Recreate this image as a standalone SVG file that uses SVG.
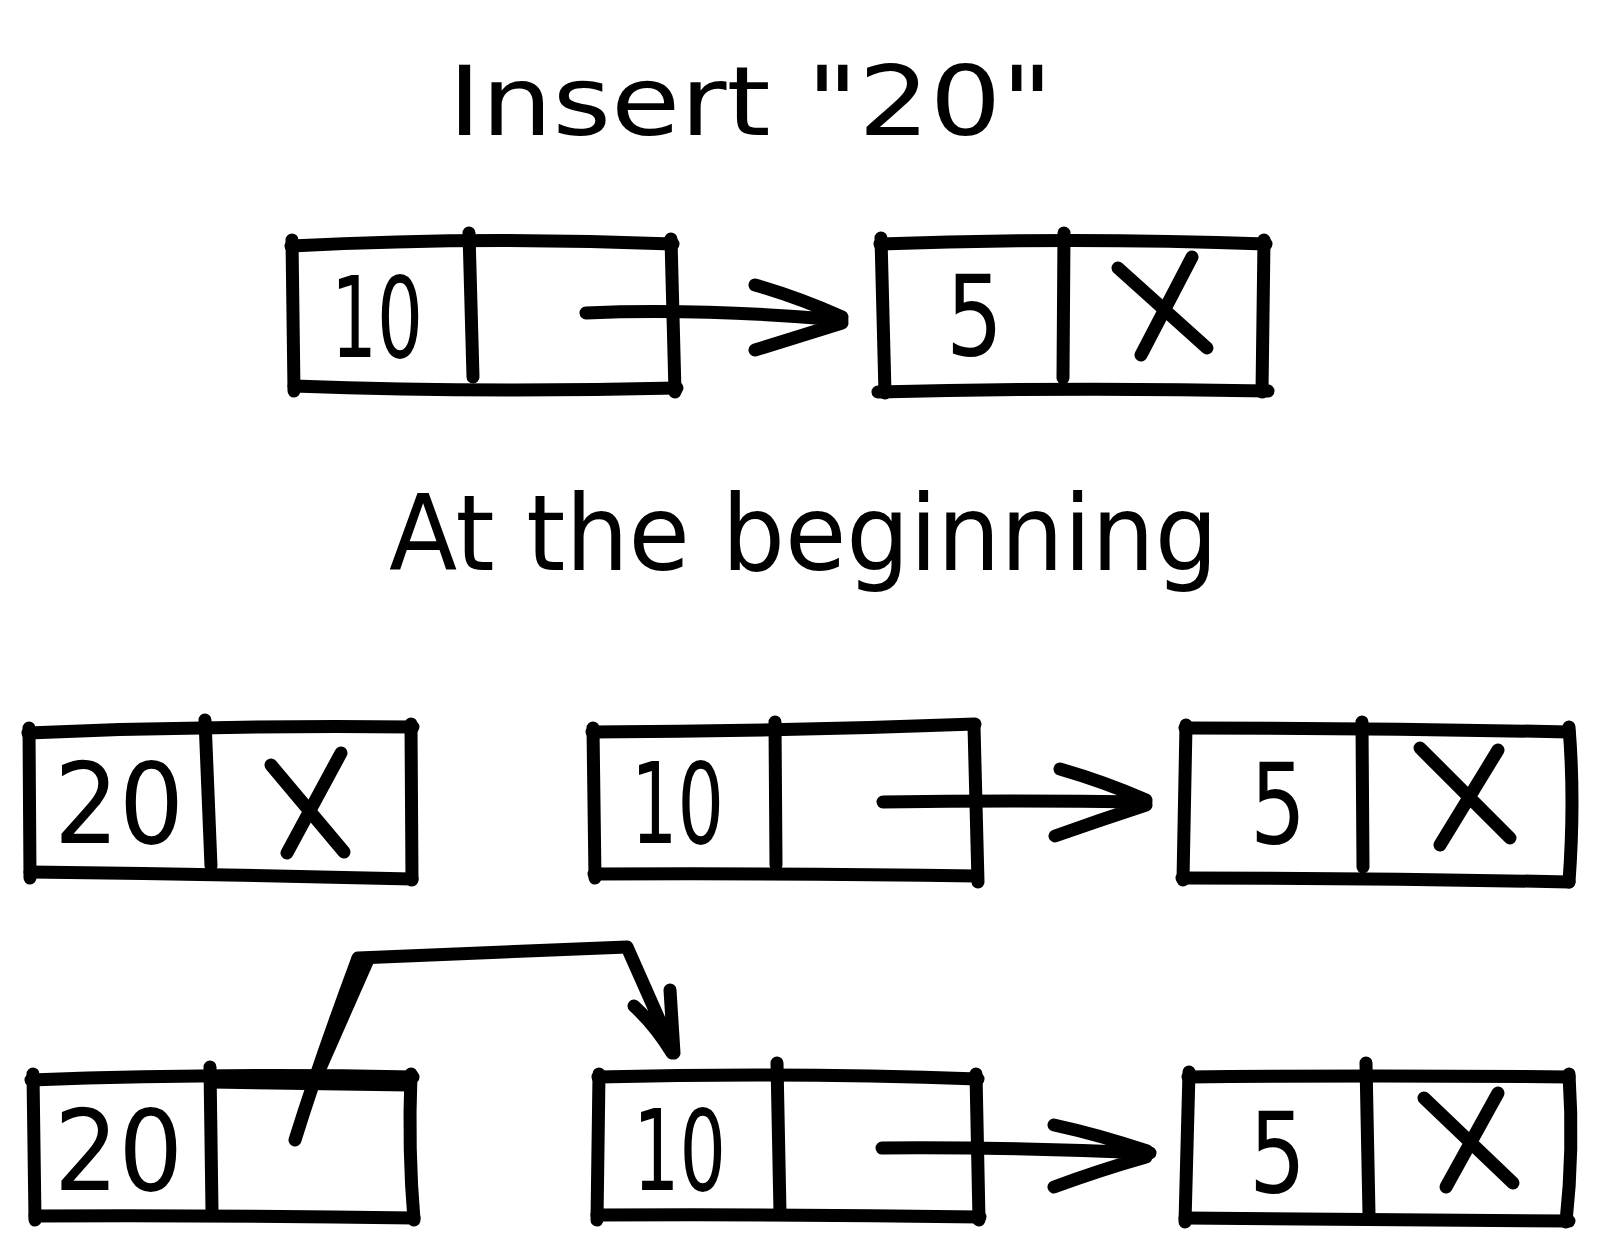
<svg xmlns="http://www.w3.org/2000/svg" width="1598" height="1252" viewBox="0 0 1598 1252">
<style>
.ln{fill:none;stroke:#000;stroke-width:13;stroke-linecap:round;stroke-linejoin:round}
.ttl{font-family:"DejaVu Sans","Liberation Sans",sans-serif;fill:#000}
.dg{font-family:"DejaVu Sans","Liberation Sans",sans-serif;font-size:112px;fill:#000}
</style>
<rect width="1598" height="1252" fill="#fff"/>
<g id="title-insert">
<text class="ttl" x="448" y="135" font-size="96" textLength="605" lengthAdjust="spacingAndGlyphs">Insert "20"</text>
</g>
<g id="title-beginning">
<text class="ttl" x="389" y="570" font-size="106" textLength="829" lengthAdjust="spacingAndGlyphs">At the beginning</text>
</g>

<g id="node-top-10">
<path class="ln" d="M291,246 Q480,236 673,244"/>
<path class="ln" d="M292,240 L294,391"/>
<path class="ln" d="M294,386 Q480,393 677,388"/>
<path class="ln" d="M671,239 L675,392"/>
<path class="ln" d="M469,233 L473,377"/>
<text class="dg" x="331" y="357" textLength="92" lengthAdjust="spacingAndGlyphs">10</text>
</g>
<g id="node-top-5">
<path class="ln" d="M880,244 Q1070,237 1266,244"/>
<path class="ln" d="M881,238 L885,393"/>
<path class="ln" d="M878,392 Q1070,387 1268,391"/>
<path class="ln" d="M1264,240 L1262,392"/>
<path class="ln" d="M1064,233 L1063,378"/>
<text class="dg" x="946" y="355" textLength="57" lengthAdjust="spacingAndGlyphs">5</text>
<path class="ln" d="M1118,268 L1207,348 M1192,257 L1141,355"/>
</g>

<g id="node-mid-20">
<path class="ln" d="M28,733 Q220,725 413,727"/>
<path class="ln" d="M29,728 L30,878"/>
<path class="ln" d="M30,872 Q220,874 412,879"/>
<path class="ln" d="M411,724 L412,880"/>
<path class="ln" d="M205,720 L211,866"/>
<text class="dg" x="54" y="843" textLength="130" lengthAdjust="spacingAndGlyphs">20</text>
<path class="ln" d="M271,765 L344,852 M341,753 L287,853"/>
</g>
<g id="node-mid-10">
<path class="ln" d="M592,732 Q790,731 975,724"/>
<path class="ln" d="M593,728 L595,878"/>
<path class="ln" d="M594,874 Q790,873 976,876"/>
<path class="ln" d="M974,726 L978,882"/>
<path class="ln" d="M775,722 L776,865"/>
<text class="dg" x="631" y="843" textLength="93" lengthAdjust="spacingAndGlyphs">10</text>
</g>
<g id="node-mid-5">
<path class="ln" d="M1185,728 Q1380,728 1569,732"/>
<path class="ln" d="M1186,725 L1183,880"/>
<path class="ln" d="M1182,878 Q1380,878 1569,882"/>
<path class="ln" d="M1569,727 Q1575,800 1569,882"/>
<path class="ln" d="M1362,722 L1363,867"/>
<text class="dg" x="1250" y="843" textLength="56" lengthAdjust="spacingAndGlyphs">5</text>
<path class="ln" d="M1420,748 L1510,838 M1498,750 L1440,845"/>
</g>

<g id="node-bot-20">
<path class="ln" d="M31,1080 Q220,1073 413,1077"/>
<path class="ln" d="M211,1082 L410,1085"/>
<path class="ln" d="M33,1074 L35,1220"/>
<path class="ln" d="M35,1216 Q220,1215 414,1218"/>
<path class="ln" d="M411,1074 Q408,1150 414,1220"/>
<path class="ln" d="M210,1067 L212,1212"/>
<text class="dg" x="54" y="1190" textLength="129" lengthAdjust="spacingAndGlyphs">20</text>
</g>
<g id="node-bot-10">
<path class="ln" d="M598,1077 Q790,1072 978,1079"/>
<path class="ln" d="M599,1074 L597,1220"/>
<path class="ln" d="M597,1215 Q790,1214 980,1217"/>
<path class="ln" d="M976,1074 L979,1220"/>
<path class="ln" d="M777,1063 L780,1213"/>
<text class="dg" x="633" y="1190" textLength="93" lengthAdjust="spacingAndGlyphs">10</text>
</g>
<g id="node-bot-5">
<path class="ln" d="M1188,1077 Q1380,1075 1569,1077"/>
<path class="ln" d="M1189,1072 L1185,1222"/>
<path class="ln" d="M1185,1218 Q1380,1220 1569,1221"/>
<path class="ln" d="M1569,1074 Q1574,1150 1566,1222"/>
<path class="ln" d="M1366,1063 L1369,1215"/>
<text class="dg" x="1249" y="1192" textLength="57" lengthAdjust="spacingAndGlyphs">5</text>
<path class="ln" d="M1424,1098 L1513,1183 M1498,1093 L1446,1187"/>
</g>

<g id="connectors">
<path class="ln" d="M586,313 Q700,308 842,320 M755,285 Q800,298 842,317 M755,350 Q800,336 842,323"/>
<path class="ln" d="M883,802 Q1010,800 1146,802 M1060,769 Q1105,782 1146,800 M1055,836 Q1100,820 1146,805"/>
<path class="ln" d="M882,1148 Q1010,1147 1150,1153 M1054,1125 Q1100,1135 1147,1151 M1054,1187 Q1100,1170 1146,1157"/>
<path class="ln" d="M295,1140 Q320,1060 358,958 L627,947 L674,1053 M634,1006 Q655,1025 672,1053 M670,990 Q672,1020 674,1053"/>
<polygon points="352,956 374,962 322,1080 316,1078" fill="#000"/>
</g>
</svg>
